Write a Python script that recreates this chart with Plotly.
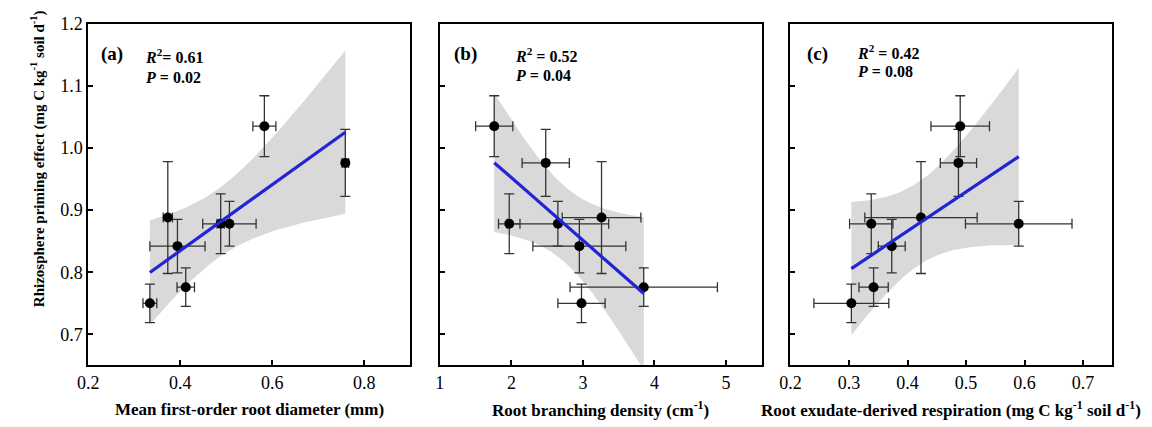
import numpy as np
import plotly.graph_objects as go

W, H = 1152, 427

# ---- data (8 treatments, same order in every panel) ----
ppe = [0.750, 0.776, 0.842, 0.878, 0.878, 0.888, 0.976, 1.035]
ppe_err = [0.031, 0.031, 0.043, 0.048, 0.036, 0.090, 0.054, 0.049]

diam = [0.334, 0.412, 0.394, 0.488, 0.507, 0.373, 0.759, 0.583]
diam_err = [0.015, 0.019, 0.060, 0.008, 0.058, 0.010, 0.007, 0.025]

branch = [2.98, 3.85, 2.95, 1.97, 2.65, 3.26, 2.48, 1.76]
branch_err = [0.33, 1.03, 0.65, 0.15, 0.71, 0.55, 0.33, 0.26]

exud = [0.304, 0.342, 0.373, 0.338, 0.590, 0.423, 0.487, 0.490]
exud_err = [0.064, 0.025, 0.023, 0.037, 0.091, 0.096, 0.031, 0.050]

y_ticks = [0.7, 0.8, 0.9, 1.0, 1.1, 1.2]
y_range = [0.65, 1.2]

panels = [
    dict(x=diam, xerr=diam_err, xrange=[0.2, 0.9], xticks=[0.2, 0.4, 0.6, 0.8],
         dom=(78, 403), label="(a)", r2="<b><i>R</i><sup>2</sup>= 0.61</b>", p="<b><i>P</i> = 0.02</b>",
         title="<b>Mean first-order root diameter (mm)</b>",
         lab_x=89, st_x=133, r2_y=47, p_y=69),
    dict(x=branch, xerr=branch_err, xrange=[1, 5.5], xticks=[1, 2, 3, 4, 5],
         dom=(433, 758), label="(b)", r2="<b><i>R</i><sup>2</sup> = 0.52</b>", p="<b><i>P</i> = 0.04</b>",
         title="<b>Root branching density (cm<sup>-1</sup>)</b>",
         lab_x=445, st_x=507, r2_y=46, p_y=67),
    dict(x=exud, xerr=exud_err, xrange=[0.2, 0.75], xticks=[0.2, 0.3, 0.4, 0.5, 0.6, 0.7],
         dom=(787, 1112), label="(c)", r2="<b><i>R</i><sup>2</sup> = 0.42</b>", p="<b><i>P</i> = 0.08</b>",
         title="<b>Root exudate-derived respiration (mg C kg<sup>-1</sup> soil d<sup>-1</sup>)</b>",
         lab_x=802, st_x=852, r2_y=43, p_y=63),
]

T_CRIT = 2.447  # t(0.975, df=6)
FONT = "Liberation Serif"
PLOT_TOP, PLOT_BOT = 14, 364


def px_x(p):
    return p / W


def px_y(p):
    return 1 - p / H


fig = go.Figure()
annotations = []
for i, pn in enumerate(panels):
    xa = "x" if i == 0 else f"x{i+1}"
    ya = "y" if i == 0 else f"y{i+1}"
    x = np.array(pn["x"], dtype=float)
    y = np.array(ppe, dtype=float)
    n = len(x)
    xb, yb = x.mean(), y.mean()
    sxx = ((x - xb) ** 2).sum()
    slope = ((x - xb) * (y - yb)).sum() / sxx
    icpt = yb - slope * xb
    resid = y - (icpt + slope * x)
    s = np.sqrt((resid ** 2).sum() / (n - 2))
    xg = np.linspace(x.min(), x.max(), 120)
    yg = icpt + slope * xg
    half = T_CRIT * s * np.sqrt(1 / n + (xg - xb) ** 2 / sxx)
    up, lo = yg + half, yg - half

    fig.add_trace(go.Scatter(
        x=np.concatenate([xg, xg[::-1]]), y=np.concatenate([up, lo[::-1]]),
        fill="toself", fillcolor="#d9d9d9", line=dict(width=0), mode="lines",
        hoverinfo="skip", showlegend=False, xaxis=xa, yaxis=ya))
    fig.add_trace(go.Scatter(
        x=pn["x"], y=ppe, mode="markers",
        marker=dict(color="black", size=10),
        error_x=dict(type="data", array=pn["xerr"], color="#333333", thickness=1.3, width=5),
        error_y=dict(type="data", array=ppe_err, color="#333333", thickness=1.3, width=5),
        showlegend=False, xaxis=xa, yaxis=ya))
    fig.add_trace(go.Scatter(
        x=xg, y=yg, mode="lines", line=dict(color="#2424d6", width=3.2),
        showlegend=False, xaxis=xa, yaxis=ya))

    axis_common = dict(showline=True, linecolor="black", linewidth=2, mirror=True,
                       ticks="inside", ticklen=5, tickwidth=1.5, tickcolor="black",
                       showgrid=False, zeroline=False,
                       tickfont=dict(family=FONT, size=18, color="black"))
    xkey = "xaxis" if i == 0 else f"xaxis{i+1}"
    ykey = "yaxis" if i == 0 else f"yaxis{i+1}"
    fig.update_layout(**{
        xkey: dict(axis_common, domain=[px_x(pn["dom"][0]), px_x(pn["dom"][1])],
                   range=pn["xrange"], tickvals=pn["xticks"], anchor=ya),
        ykey: dict(axis_common, domain=[px_y(PLOT_BOT), px_y(PLOT_TOP)],
                   range=y_range, tickvals=y_ticks, tickformat=".1f",
                   showticklabels=(i == 0), anchor=xa),
    })

    annotations.append(dict(text="<b>" + pn["label"] + "</b>", x=px_x(pn["lab_x"]), y=px_y(45),
                            xref="paper", yref="paper", xanchor="left", yanchor="middle",
                            showarrow=False, font=dict(family=FONT, size=19, color="black")))
    annotations.append(dict(text=pn["r2"], x=px_x(pn["st_x"]), y=px_y(pn["r2_y"]),
                            xref="paper", yref="paper", xanchor="left", yanchor="middle",
                            showarrow=False, font=dict(family=FONT, size=16, color="black")))
    annotations.append(dict(text=pn["p"], x=px_x(pn["st_x"]), y=px_y(pn["p_y"]),
                            xref="paper", yref="paper", xanchor="left", yanchor="middle",
                            showarrow=False, font=dict(family=FONT, size=16, color="black")))
    annotations.append(dict(text=pn["title"], x=px_x((pn["dom"][0] + pn["dom"][1]) / 2), y=px_y(409),
                            xref="paper", yref="paper", xanchor="center", yanchor="middle",
                            showarrow=False, font=dict(family=FONT, size=17, color="black")))

annotations.append(dict(text="<b>Rhizosphere priming effect (mg C kg<sup>-1</sup> soil d<sup>-1</sup>)</b>",
                        x=px_x(27), y=px_y(152), xref="paper", yref="paper",
                        xanchor="center", yanchor="middle", textangle=-90, showarrow=False,
                        font=dict(family=FONT, size=15, color="black")))

fig.update_layout(width=W, height=H, margin=dict(l=0, r=0, t=0, b=0),
                  paper_bgcolor="white", plot_bgcolor="white",
                  annotations=annotations, showlegend=False)

fig.write_html("out.html", config={"displayModeBar": False},
               post_script="document.body.style.margin='0px';document.body.style.padding='0px';")
